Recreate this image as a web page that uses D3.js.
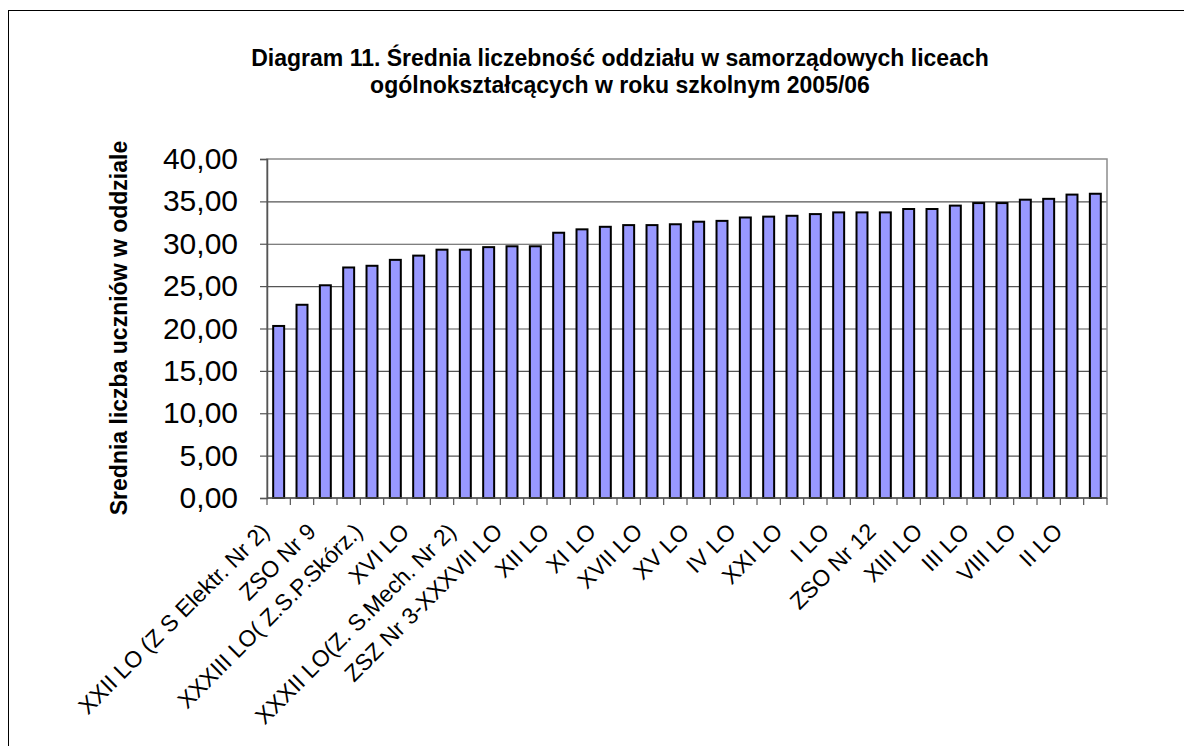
<!DOCTYPE html>
<html>
<head>
<meta charset="utf-8">
<script src="https://cdn.jsdelivr.net/npm/d3@7"></script>
<style>
  body { margin: 0; background: #fff; }
  text { font-family: "Liberation Sans", Arial, sans-serif; }
</style>
</head>
<body>
<svg id="chart" width="1184" height="746"></svg>
<script>
// every other category is labelled in the source chart; unlabelled ones left blank
const categories = [
  'XXII LO (Z S Elektr. Nr 2)', '', 'ZSO Nr 9', '', 'XXXIII LO( Z.S.P.Skórz.)', '',
  'XVI LO', '', 'XXXII LO(Z. S.Mech. Nr 2)', '', 'ZSZ Nr 3-XXXVII LO', '',
  'XII LO', '', 'XI LO', '', 'XVII LO', '', 'XV LO', '', 'IV LO', '',
  'XXI LO', '', 'I LO', '', 'ZSO Nr 12', '', 'XIII LO', '', 'III LO', '',
  'VIII LO', '', 'II LO', ''
];
const values = [
  20.3, 22.8, 25.1, 27.2, 27.4, 28.1, 28.6, 29.3, 29.3, 29.6, 29.7, 29.7,
  31.3, 31.7, 32.0, 32.2, 32.2, 32.3, 32.6, 32.7, 33.1, 33.2, 33.3, 33.5,
  33.7, 33.7, 33.7, 34.1, 34.1, 34.5, 34.8, 34.8, 35.2, 35.3, 35.8, 35.9
];
const yTicks = [0, 5, 10, 15, 20, 25, 30, 35, 40];
const titleLines = [
  'Diagram 11. Średnia liczebność oddziału w samorządowych liceach',
  'ogólnokształcących w roku szkolnym 2005/06'
];
const yTitle = 'Srednia liczba uczniów w oddziale';

const svg = d3.select('#chart');
const plot = {left: 267, right: 1107, top: 159, bottom: 498};

// outer frame (runs off the right and bottom of the picture)
svg.append('rect')
  .attr('x', 8.5).attr('y', 10.5)
  .attr('width', 1300).attr('height', 800)
  .attr('fill', 'none').attr('stroke', '#000').attr('stroke-width', 1);

const x = d3.scaleBand()
  .domain(d3.range(categories.length))
  .range([plot.left, plot.right])
  .paddingInner(0.53)
  .paddingOuter(0.265);

const y = d3.scaleLinear()
  .domain([0, 40])
  .range([plot.bottom, plot.top]);

// gridlines
svg.append('g')
  .selectAll('line')
  .data(yTicks.filter(d => d > 0 && d < 40))
  .join('line')
  .attr('x1', plot.left).attr('x2', plot.right)
  .attr('y1', d => y(d) + 0.5).attr('y2', d => y(d) + 0.5)
  .attr('stroke', '#555').attr('stroke-width', 1.2);

// plot border
svg.append('rect')
  .attr('x', plot.left).attr('y', plot.top)
  .attr('width', plot.right - plot.left).attr('height', plot.bottom - plot.top)
  .attr('fill', 'none').attr('stroke', '#8c8c8c').attr('stroke-width', 1.5);

// bars
svg.append('g')
  .selectAll('rect')
  .data(values)
  .join('rect')
  .attr('x', (d, i) => x(i))
  .attr('y', d => y(d))
  .attr('width', x.bandwidth())
  .attr('height', d => y(0) - y(d))
  .attr('fill', '#9999ff')
  .attr('stroke', '#000')
  .attr('stroke-width', 2);

// y axis
const yAxis = svg.append('g')
  .attr('transform', `translate(${plot.left},0)`)
  .call(d3.axisLeft(y)
    .tickValues(yTicks)
    .tickSize(7)
    .tickPadding(22)
    .tickFormat(d => d.toFixed(2).replace('.', ',')));
yAxis.select('.domain').attr('stroke', '#555').attr('stroke-width', 1.5);
yAxis.selectAll('.tick line').attr('stroke', '#555').attr('stroke-width', 1.2);
yAxis.selectAll('.tick text')
  .attr('font-size', 30)
  .attr('font-family', '"Liberation Sans", Arial, sans-serif')
  .attr('fill', '#000');

// x axis: ticks sit between categories, labels rotated on every other one
const gap = (x.step() - x.bandwidth()) / 2;
const xAxis = svg.append('g');
xAxis.append('line')
  .attr('x1', plot.left).attr('x2', plot.right)
  .attr('y1', plot.bottom).attr('y2', plot.bottom)
  .attr('stroke', '#555').attr('stroke-width', 1.5);
xAxis.selectAll('line.tick')
  .data(d3.range(categories.length + 1))
  .join('line')
  .attr('class', 'tick')
  .attr('x1', i => (i < categories.length ? x(i) - gap : plot.right))
  .attr('x2', i => (i < categories.length ? x(i) - gap : plot.right))
  .attr('y1', plot.bottom).attr('y2', plot.bottom + 7)
  .attr('stroke', '#555').attr('stroke-width', 1.2);
xAxis.selectAll('text')
  .data(categories.map((c, i) => ({c, i})).filter(d => d.c))
  .join('text')
  .attr('transform', d => `translate(${x(d.i) + x.bandwidth() / 2 - 8},${plot.bottom + 35}) rotate(-45)`)
  .attr('text-anchor', 'end')
  .attr('font-size', 23)
  .text(d => d.c);

// titles
svg.append('text')
  .attr('text-anchor', 'middle')
  .attr('font-size', 23).attr('font-weight', 'bold')
  .selectAll('tspan')
  .data(titleLines)
  .join('tspan')
  .attr('x', 620)
  .attr('y', (d, i) => 66 + i * 27)
  .text(d => d);

svg.append('text')
  .attr('transform', `translate(127,328) rotate(-90)`)
  .attr('text-anchor', 'middle')
  .attr('font-size', 23).attr('font-weight', 'bold')
  .text(yTitle);
</script>
</body>
</html>
